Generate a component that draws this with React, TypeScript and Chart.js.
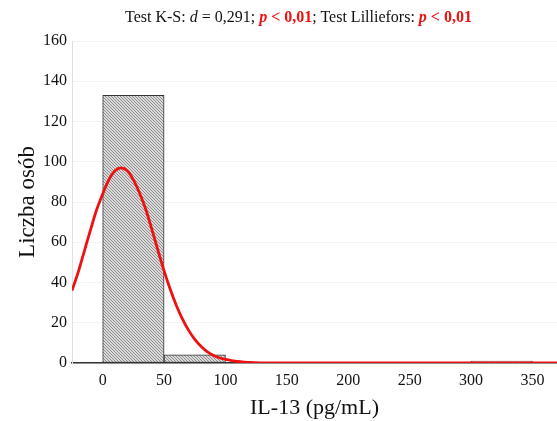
import React, { useEffect, useRef } from "react";
import { Chart, registerables } from "chart.js";

Chart.register(...registerables);

const binCenters = [25, 75, 125, 175, 225, 275, 325];
const binCounts = [133, 4, 0, 0, 0, 0, 1];
const curveX = [-25, -20, -15, -10, -5, 0, 5, 10, 15, 20, 25, 30, 35, 40, 45, 50, 55, 60, 65, 70, 75, 80, 85, 90, 95, 100, 105, 110, 115, 120, 130, 140, 200, 300, 370];
const curveY = [36, 45, 55.5, 66, 76, 84, 91, 95.5, 97, 95.5, 91, 84.5, 76.5, 66.5, 56, 45.8, 36.6, 28.6, 21.8, 16.2, 11.7, 8.3, 5.7, 3.9, 2.6, 1.8, 1.2, 0.75, 0.45, 0.25, 0.08, 0, 0, 0, 0];
const xTicks = [0, 50, 100, 150, 200, 250, 300, 350];
const yTicks = [0, 20, 40, 60, 80, 100, 120, 140, 160];

function makeHatch(): CanvasPattern | string {
  const c = document.createElement("canvas");
  c.width = 3;
  c.height = 3;
  const g = c.getContext("2d");
  if (!g) return "#bbb";
  g.fillStyle = "#dadada";
  g.fillRect(0, 0, 3, 3);
  g.fillStyle = "#8e8e8e";
  for (let i = 0; i < 3; i++) g.fillRect(i, i, 1, 1);
  return g.createPattern(c, "repeat") || "#bbb";
}

export default function App() {
  const ref = useRef<HTMLCanvasElement>(null);
  useEffect(() => {
    if (!ref.current) return;
    const hatch = makeHatch();
    const serif = "'Liberation Serif', 'Times New Roman', serif";
    const chart = new Chart(ref.current, {
      type: "bar",
      data: {
        datasets: [
          {
            type: "line",
            data: curveX.map((x, i) => ({ x, y: curveY[i] })),
            borderColor: "#ee1111",
            borderWidth: 2.8,
            pointRadius: 0,
            cubicInterpolationMode: "monotone",
            fill: false,
            order: 0,
          } as any,
          {
            type: "bar",
            data: binCenters.map((x, i) => ({ x, y: binCounts[i] })),
            backgroundColor: hatch as any,
            borderColor: "#333",
            borderWidth: 1,
            borderSkipped: false,
            barPercentage: 1,
            categoryPercentage: 1,
            order: 1,
          } as any,
        ],
      },
      options: {
        animation: false,
        responsive: false,
        layout: { padding: { top: 41, left: 0, right: 0, bottom: 0 } },
        plugins: { legend: { display: false }, tooltip: { enabled: false } },
        scales: {
          x: {
            type: "linear",
            offset: false,
            min: -25,
            max: 370,
            afterBuildTicks: (s: any) => {
              s.ticks = xTicks.map((v) => ({ value: v }));
            },
            afterFit: (s: any) => {
              s.height = 58;
            },
            grid: { display: false, drawTicks: false },
            border: { display: true, color: "#333", width: 1.5 },
            ticks: { padding: 8, color: "#111", font: { family: serif, size: 16 } },
            title: {
              display: true,
              text: "IL-13 (pg/mL)",
              color: "#111",
              font: { family: serif, size: 22 },
              padding: { top: 0, bottom: 0 },
            },
          },
          y: {
            type: "linear",
            min: 0,
            max: 160,
            afterBuildTicks: (s: any) => {
              s.ticks = yTicks.map((v) => ({ value: v }));
            },
            afterFit: (s: any) => {
              s.width = 72;
            },
            grid: { color: "#f3f3f3", drawTicks: false },
            border: { display: true, color: "#e0e0e0" },
            ticks: { padding: 5, color: "#111", font: { family: serif, size: 16 } },
            title: {
              display: true,
              text: "Liczba osób",
              color: "#111",
              font: { family: serif, size: 23 },
              padding: { top: 14, bottom: 0 },
            },
          },
        },
      },
    });
    return () => chart.destroy();
  }, []);

  const red: React.CSSProperties = { color: "#ee1111", fontWeight: "bold" };
  return (
    <div style={{ position: "absolute", left: 0, top: 0, width: 557, height: 421, background: "#fff" }}>
      <div
        style={{
          position: "absolute",
          left: 20,
          top: 7,
          width: 557,
          textAlign: "center",
          fontFamily: "'Liberation Serif', 'Times New Roman', serif",
          fontSize: 16,
          lineHeight: "20px",
          color: "#111",
          whiteSpace: "nowrap",
        }}
      >
        Test K-S: <i>d</i> = 0,291; <span style={red}><i>p</i> &lt; 0,01</span>; Test Lilliefors:{" "}
        <span style={red}><i>p</i> &lt; 0,01</span>
      </div>
      <canvas ref={ref} width={557} height={421} style={{ display: "block" }} />
    </div>
  );
}
